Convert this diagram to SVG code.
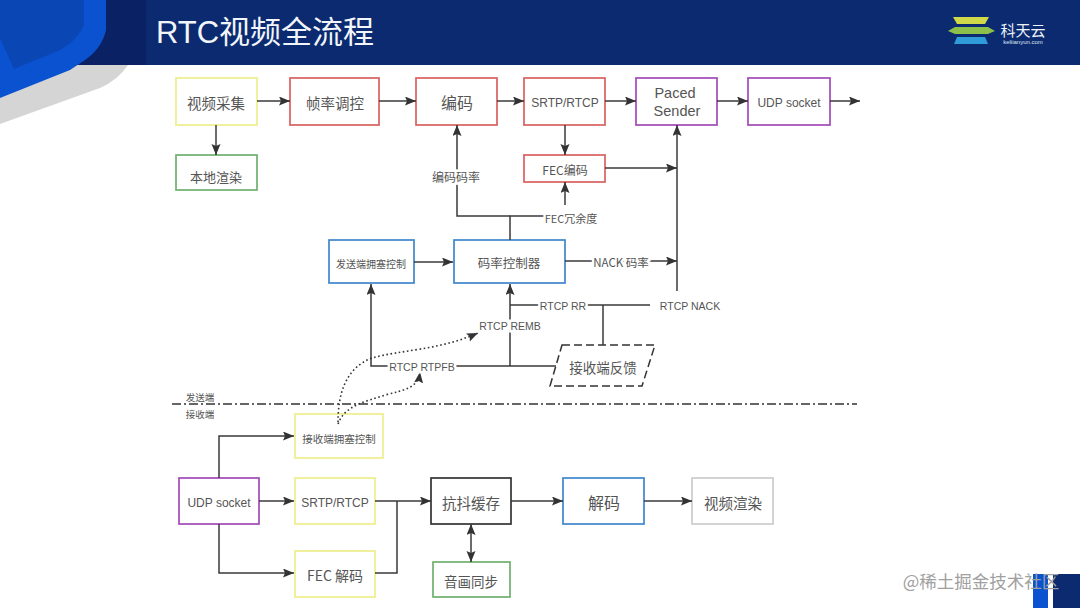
<svg xmlns="http://www.w3.org/2000/svg" width="1080" height="608" viewBox="0 0 1080 608">
<style>
text{font-family:"Noto Sans CJK SC","Liberation Sans",sans-serif;fill:#555;text-anchor:middle;dominant-baseline:central}
.latin{font-family:"Liberation Sans","Noto Sans CJK SC",sans-serif}
.b{fill:#fff;stroke-width:1.7}
.y{stroke:#eeee8c}.r{stroke:#d9615f}.g{stroke:#6fb06f}.p{stroke:#a349b8}.l{stroke:#3f87cc}.k{stroke:#333}.v{stroke:#ccc}
.c{fill:none;stroke:#3a3a3a;stroke-width:1.5}
.d{fill:none;stroke:#333;stroke-width:1.6;stroke-dasharray:1.6 2.6}
.lb{paint-order:stroke;stroke:#fff;stroke-width:5px}
</style>
<defs>
<marker id="a" markerWidth="13" markerHeight="10" refX="11" refY="4.500" orient="auto-start-reverse" markerUnits="userSpaceOnUse"><path d="M0 0L11 4.500L0 9L2 4.500Z" fill="#333"/></marker>
</defs>
<g id="header">
<rect width="1080" height="65" fill="#0b2a6f"/>
<rect width="146" height="65" fill="#0a2264"/>
<path d="M0 124V65H128Q118 80 100 88Z" fill="#d5d5d5"/>
<path d="M0 0H106V30Q102 48 85 60L70 70L0 98Z" fill="#0b52d0"/>
<path d="M0 0H84V25Q78 40 60 50L14 69L0 38Z" fill="#0a46b4"/>
<text x="265" y="32" font-size="31" style="fill:#f2f6fb" class="latin">RTC视频全流程</text>
<path d="M953 17H989L985 24H957Z" fill="#cfd94a"/>
<path d="M948 31L955 27H988L995 31L988 34H955Z" fill="#8cc04a"/>
<path d="M957 37H985L988 44H954Z" fill="#2f9bd8"/>
<text x="1023" y="29" font-size="15" style="fill:#eef3fa">科天云</text>
<text x="1023" y="42" font-size="6" style="fill:#dfe7f2" class="latin">keliianyun.com</text>
</g>
<g id="n1"><rect class="b y" x="176" y="78" width="81" height="47"/><text x="216" y="102" font-size="14.500">视频采集</text></g>
<g id="n2"><rect class="b r" x="290" y="78" width="89" height="47"/><text x="335" y="102" font-size="14.500">帧率调控</text></g>
<g id="n3"><rect class="b r" x="416" y="78" width="81" height="47"/><text x="457" y="102" font-size="16">编码</text></g>
<g id="n4"><rect class="b r" x="524" y="78" width="81" height="47"/><text x="565" y="103" font-size="12" class="latin">SRTP/RTCP</text></g>
<g id="n5"><rect class="b p" x="636" y="78" width="81" height="47"/><text x="675" y="93" font-size="14.500" class="latin">Paced</text><text x="677" y="111" font-size="14.500" class="latin">Sender</text></g>
<g id="n6"><rect class="b p" x="748" y="78" width="82" height="47"/><text x="789" y="103" font-size="12" class="latin">UDP socket</text></g>
<g id="n7"><rect class="b g" x="176" y="155" width="81" height="35"/><text x="216" y="176" font-size="13">本地渲染</text></g>
<g id="n8"><rect class="b r" x="524" y="155" width="81" height="27"/><text x="565" y="169" font-size="12">FEC编码</text></g>
<g id="n9"><rect class="b l" x="329" y="240" width="85" height="43"/><text x="371" y="263" font-size="10">发送端拥塞控制</text></g>
<g id="n10"><rect class="b l" x="454" y="240" width="111" height="43"/><text x="509" y="262" font-size="12.500">码率控制器</text></g>
<g id="n11"><path d="M562 345H655L642 386H550Z" fill="#fff" stroke="#333" stroke-width="1.500" stroke-dasharray="8 4"/><text x="603" y="367" font-size="13.500">接收端反馈</text></g>
<g id="n12"><rect class="b y" x="295" y="414" width="88" height="44"/><text x="339" y="438" font-size="10.500">接收端拥塞控制</text></g>
<g id="n13"><rect class="b p" x="179" y="478" width="80" height="46"/><text x="219" y="503" font-size="12" class="latin">UDP socket</text></g>
<g id="n14"><rect class="b y" x="295" y="478" width="80" height="46"/><text x="335" y="503" font-size="12" class="latin">SRTP/RTCP</text></g>
<g id="n15"><rect class="b y" x="295" y="551" width="80" height="46"/><text x="335" y="575" font-size="14">FEC 解码</text></g>
<g id="n16"><rect class="b k" x="431" y="478" width="80" height="46"/><text x="471" y="502" font-size="14.500">抗抖缓存</text></g>
<g id="n17"><rect class="b g" x="433" y="562" width="77" height="35"/><text x="471" y="581" font-size="13.500">音画同步</text></g>
<g id="n18"><rect class="b l" x="563" y="478" width="81" height="46"/><text x="604" y="502" font-size="16">解码</text></g>
<g id="n19"><rect class="b v" x="692" y="478" width="81" height="46"/><text x="733" y="502" font-size="14.500">视频渲染</text></g>
<g id="connectors">
<path class="c" marker-end="url(#a)" d="M257 101H290"/>
<path class="c" marker-end="url(#a)" d="M216 125V155"/>
<path class="c" marker-end="url(#a)" d="M379 101H416"/>
<path class="c" marker-end="url(#a)" d="M497 101H524"/>
<path class="c" marker-end="url(#a)" d="M605 101H636"/>
<path class="c" marker-end="url(#a)" d="M717 101H748"/>
<path class="c" marker-end="url(#a)" d="M830 101H860"/>
<path class="c" marker-end="url(#a)" d="M565 125V155"/>
<path class="c" marker-end="url(#a)" d="M510 216H457V125"/>
<path class="c" d="M510 240V216H545"/>
<path class="c" marker-end="url(#a)" d="M565 205V182"/>
<path class="c" marker-end="url(#a)" d="M605 168H677"/>
<path class="c" marker-end="url(#a)" d="M677 291V125"/>
<path class="c" marker-end="url(#a)" d="M565 261H677"/>
<path class="c" marker-end="url(#a)" d="M414 262H453"/>
<path class="c" marker-end="url(#a)" d="M510 366V284"/>
<path class="c" d="M510 305H650M603 305V345"/>
<path class="c" marker-end="url(#a)" d="M556 366H371V284"/>
<path class="d" marker-end="url(#a)" d="M338 422C338 395 345 368 372 358C400 350 440 350 478 333"/>
<path class="d" marker-end="url(#a)" d="M338 424C345 405 365 402 385 395C405 390 418 388 420 372"/>
<path d="M172 404H857" fill="none" stroke="#333" stroke-width="1.400" stroke-dasharray="9 3 2 3"/>
<path class="c" marker-end="url(#a)" d="M219 478V436H294"/>
<path class="c" marker-end="url(#a)" d="M259 501H294"/>
<path class="c" marker-end="url(#a)" d="M219 524V573H294"/>
<path class="c" marker-end="url(#a)" d="M375 501H431"/>
<path class="c" d="M375 573H397V501"/>
<path class="c" marker-end="url(#a)" d="M511 501H563"/>
<path class="c" marker-end="url(#a)" d="M644 501H692"/>
<path class="c" marker-start="url(#a)" marker-end="url(#a)" d="M471 524V562"/>
</g>
<g id="labels">
<text class="lb" x="456" y="176" font-size="12">编码码率</text>
<text class="lb" x="571" y="218" font-size="11">FEC冗余度</text>
<text class="lb" x="621" y="262" font-size="11.500">NACK 码率</text>
<text class="lb latin" x="563" y="306" font-size="10.500">RTCP RR</text>
<text class="lb latin" x="690" y="306" font-size="10.500">RTCP NACK</text>
<text class="lb latin" x="510" y="326" font-size="10.500">RTCP REMB</text>
<text class="lb latin" x="422" y="367" font-size="10.500">RTCP RTPFB</text>
<text x="200" y="397" font-size="9.500">发送端</text>
<text x="200" y="414" font-size="9.500">接收端</text>
</g>
<g id="footer">
<rect x="1033" y="574" width="15" height="34" fill="#0b52d0"/>
<rect x="1053" y="574" width="27" height="34" fill="#0b2a6f"/>
<text x="981" y="580" font-size="17.500" style="fill:#a0a0a0">@稀土掘金技术社区</text>
</g>
</svg>
